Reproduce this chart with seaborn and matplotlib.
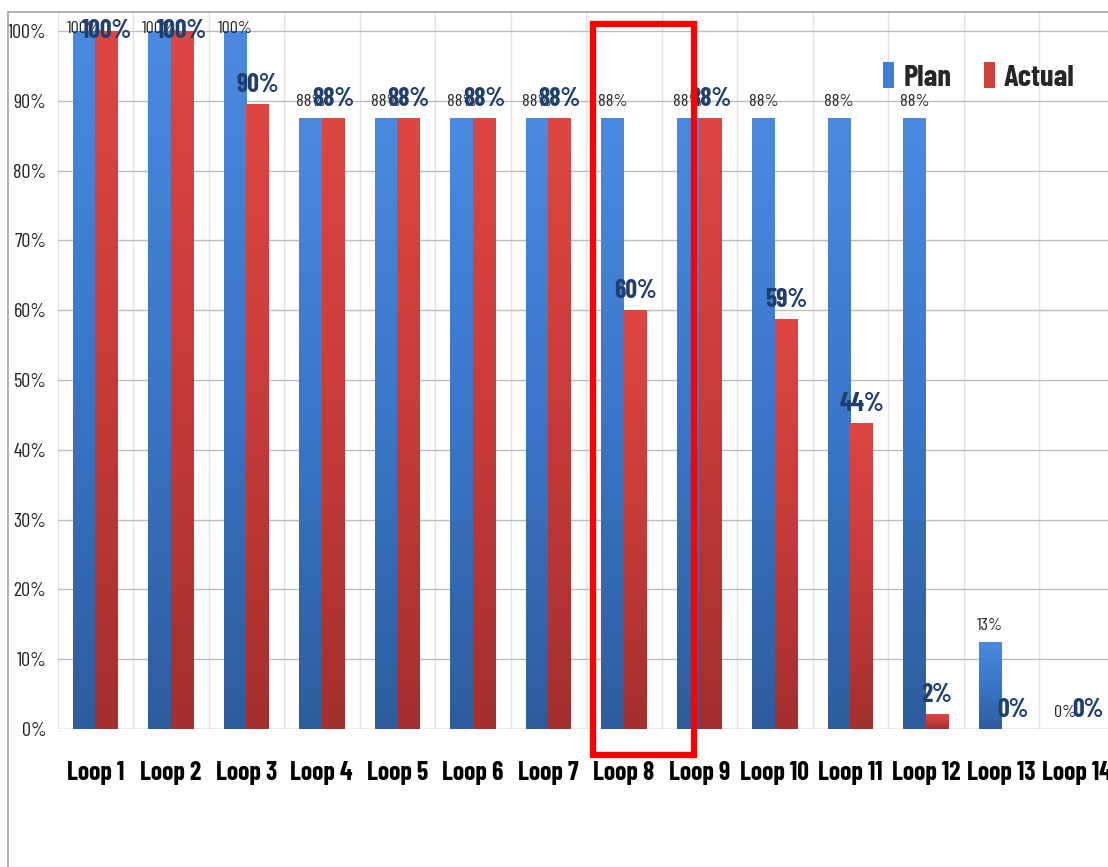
import matplotlib
matplotlib.use("Agg")
import matplotlib.pyplot as plt
import seaborn as sns
import numpy as np
import pandas as pd
from matplotlib.colors import LinearSegmentedColormap
from matplotlib.patches import Rectangle
from matplotlib.lines import Line2D

categories = ["Loop 1", "Loop 2", "Loop 3", "Loop 4", "Loop 5", "Loop 6", "Loop 7",
              "Loop 8", "Loop 9", "Loop 10", "Loop 11", "Loop 12", "Loop 13", "Loop 14"]
plan = [100, 100, 100, 87.5, 87.5, 87.5, 87.5, 87.5, 87.5, 87.5, 87.5, 87.5, 12.5, 0]
actual = [100, 100, 89.5, 87.5, 87.5, 87.5, 87.5, 60, 87.5, 58.8, 43.8, 2.1, 0, 0]
plan_labels = ["100%", "100%", "100%", "88%", "88%", "88%", "88%", "88%", "88%", "88%", "88%", "88%", "13%", "0%"]
actual_labels = ["100%", "100%", "90%", "88%", "88%", "88%", "88%", "60%", "88%", "59%", "44%", "2%", "0%", "0%"]
series = ["Plan", "Actual"]
yticks = [0, 10, 20, 30, 40, 50, 60, 70, 80, 90, 100]

df = pd.DataFrame({
    "Loop": categories * 2,
    "Series": ["Plan"] * len(categories) + ["Actual"] * len(categories),
    "Value": plan + actual,
})

sns.set_theme(style="white")
NARROW = ["Barlow Condensed", "DejaVu Sans"]
plt.rcParams["font.family"] = NARROW

W, H = 1108, 867
fig = plt.figure(figsize=(W / 100, H / 100), dpi=100)
fig.patch.set_facecolor("white")

left_px, right_px, zero_px, top_px = 57.5, 1114.5, 729, 12
ax = fig.add_axes([left_px / W, (H - zero_px) / H, (right_px - left_px) / W, (zero_px - top_px) / H])
ymax = (zero_px - top_px) / 6.98

pal = {"Plan": "#3F7ED6", "Actual": "#D23E3B"}
sns.barplot(data=df, x="Loop", y="Value", hue="Series", order=categories, hue_order=series,
            palette=pal, width=0.6, gap=0, saturation=1, ax=ax, zorder=3, linewidth=0)

handles, labels = ax.get_legend_handles_labels()
if ax.get_legend() is not None:
    ax.get_legend().remove()

ax.set_xlim(-0.5, len(categories) - 0.5)
ax.set_ylim(0, ymax)

# gradient fills on bars
cmaps = {
    "Plan": LinearSegmentedColormap.from_list("p", ["#2D5D9D", "#3A76C8", "#4A8AE0"]),
    "Actual": LinearSegmentedColormap.from_list("a", ["#A32F2E", "#C63B39", "#DE4643"]),
}
grad = np.linspace(0, 1, 256).reshape(-1, 1)
bars = [p for p in ax.patches if isinstance(p, Rectangle)]
n = len(categories)
for i, p in enumerate(bars[: 2 * n]):
    s = series[i // n]
    x0, y0, w, h = p.get_x(), p.get_y(), p.get_width(), p.get_height()
    if h <= 0:
        continue
    im = ax.imshow(grad, extent=[x0, x0 + w, y0, y0 + h], origin="lower", aspect="auto",
                   cmap=cmaps[s], zorder=3.5, interpolation="bilinear")
    im.set_clip_path(p)
ax.set_xlim(-0.5, len(categories) - 0.5)
ax.set_ylim(0, ymax)
ax.set_aspect("auto")

# data labels
for i, p in enumerate(bars[: 2 * n]):
    s = series[i // n]
    k = i % n
    cx = p.get_x() + p.get_width() / 2
    h = p.get_height()
    if s == "Plan":
        ax.text(cx, min(h + 1.3, 99.3), plan_labels[k], ha="center", va="bottom",
                fontsize=13, color="#262626", zorder=6, family=NARROW)
    else:
        ax.text(cx, min(h + 1.0, 98.3), actual_labels[k], ha="center", va="bottom",
                fontsize=18.5, fontweight="bold", color="#1F3F6E", zorder=6, family=NARROW)

# axes styling
ax.set_yticks(yticks)
ax.set_yticklabels([f"{v}%" for v in yticks], fontsize=14.5, color="#222222")
ax.set_xticks(range(n))
ax.set_xticklabels(categories, fontsize=18.5, fontweight="bold", color="#000000")
ax.set_xticks(np.arange(-0.5, n, 1.0), minor=True)
ax.tick_params(axis="x", which="major", length=0, pad=23)
ax.tick_params(axis="x", which="minor", length=8, color="#C8C8C8", width=1, direction="out")
ax.tick_params(axis="y", which="major", length=0, pad=8)
ax.set_xlabel("")
ax.set_ylabel("")
ax.grid(False)
for v in yticks:
    ax.axhline(v, color="#BDBDBD" if v > 0 else "#A0A0A0", lw=1, zorder=1)
for b in np.arange(-0.5, n, 1.0):
    ax.axvline(b, color="#E3E3E3", lw=1, zorder=0.5)
for sp in ax.spines.values():
    sp.set_visible(False)

# red highlight box
ax.add_patch(Rectangle((6.59, -3.72), 7.93 - 6.59, 101.0 + 3.72, fill=False,
                       edgecolor="#FF0000", lw=4.5, clip_on=False, zorder=10))

# chart frame
fig.add_artist(Line2D([8 / W, 1.0], [(H - 12) / H, (H - 12) / H], color="#A6A6A6", lw=1.2))
fig.add_artist(Line2D([8 / W, 8 / W], [0, (H - 12) / H], color="#A6A6A6", lw=1.2))

# legend
fig.legend(handles, labels, loc="center", bbox_to_anchor=(979 / W, (H - 77) / H), ncol=2,
           frameon=False, handlelength=0.36, handleheight=0.9, handletextpad=0.3,
           columnspacing=1.05, prop={"family": NARROW, "size": 22, "weight": "bold"})

fig.savefig("out.png", dpi=100, facecolor="white")
